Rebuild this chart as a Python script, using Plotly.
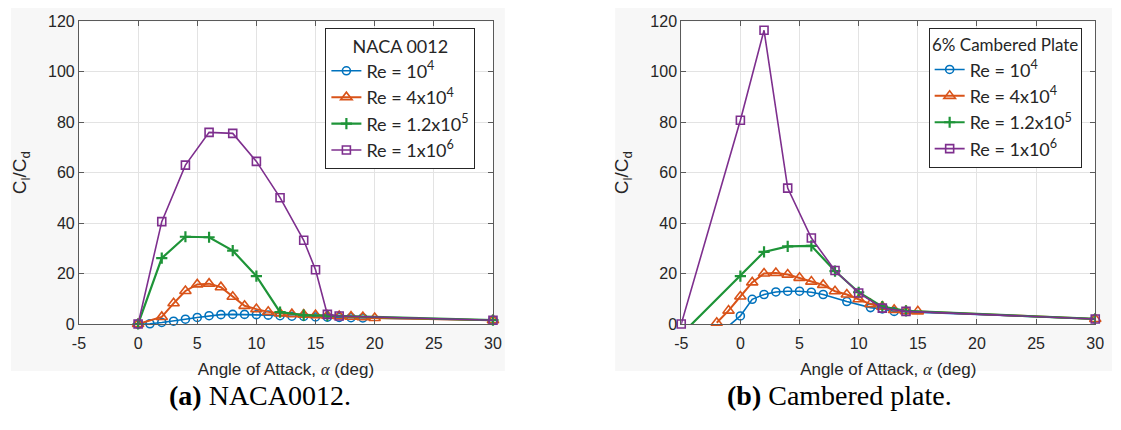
import plotly.graph_objects as go

# ---------------- data: (a) NACA 0012 ----------------
a_alpha_re1 = [0, 1, 2, 3, 4, 5, 6, 7, 8, 9, 10, 11, 12, 13, 14, 15, 16, 17, 18, 19, 30]
a_val_re1 = [0.0, 0.1, 0.6, 1.1, 1.9, 2.6, 3.3, 3.7, 3.8, 3.8, 3.7, 3.5, 3.3, 3.1, 3.0, 2.8, 2.7, 2.6, 2.5, 2.4, 1.5]

a_alpha_re2 = [0, 2, 3, 4, 5, 6, 7, 8, 9, 10, 11, 12, 13, 14, 15, 16, 17, 18, 19, 20, 30]
a_val_re2 = [0.0, 2.8, 8.2, 13.1, 15.7, 16.0, 14.6, 10.8, 7.2, 5.9, 4.8, 4.2, 3.9, 3.7, 3.5, 3.3, 3.1, 2.9, 2.7, 2.4, 1.5]

a_alpha_re3 = [0, 2, 4, 6, 8, 10, 12, 14, 16, 30]
a_val_re3 = [0.0, 26.1, 34.6, 34.4, 29.1, 19.0, 4.7, 3.5, 3.3, 1.5]

a_alpha_re4 = [0, 2, 4, 6, 8, 10, 12, 14, 15, 16, 17, 30]
a_val_re4 = [0.0, 40.6, 63.0, 76.0, 75.6, 64.5, 50.1, 33.2, 21.5, 3.8, 3.2, 1.5]

# ---------------- data: (b) 6% cambered plate ----------------
b_alpha_re1 = [-1, 0, 1, 2, 3, 4, 5, 6, 7, 9, 11, 12, 13, 30]
b_val_re1 = [-0.8, 3.2, 9.8, 11.7, 12.7, 13.0, 13.0, 12.6, 11.7, 8.9, 6.5, 6.0, 5.0, 2.0]

b_alpha_re2 = [-2, -1, 0, 1, 2, 3, 4, 5, 6, 7, 8, 9, 10, 11, 12, 13, 14, 15, 30]
b_val_re2 = [0.5, 5.3, 10.9, 16.5, 20.0, 20.2, 19.6, 18.3, 16.8, 15.5, 13.0, 11.7, 9.8, 7.9, 6.9, 5.6, 5.1, 5.0, 2.0]

b_alpha_re3 = [-5, 0, 2, 4, 6, 8, 10, 12, 14, 30]
b_val_re3 = [-4.2, 19.0, 28.6, 30.8, 31.0, 21.0, 12.6, 6.9, 5.2, 2.0]

b_alpha_re4 = [-5, 0, 2, 4, 6, 8, 10, 12, 14, 30]
b_val_re4 = [0.0, 80.8, 116.5, 53.9, 34.1, 21.2, 12.3, 6.3, 5.0, 2.0]

series_names = ["Re = 10<sup>4</sup>", "Re = 4x10<sup>4</sup>",
                "Re = 1.2x10<sup>5</sup>", "Re = 1x10<sup>6</sup>"]
colors = ["#0072BD", "#D95319", "#1E9438", "#7E2F8E"]
symbols = ["circle-open", "triangle-up-open", "cross-thin-open", "square-open"]
msizes = [8, 10, 8, 8]
lwidths = [1.6, 2.0, 2.2, 1.6]

x_ticks = [-5, 0, 5, 10, 15, 20, 25, 30]
x_ticktext = ["-5", "0", "5", "10", "15", "20", "25", "30"]
y_ticks = [0, 20, 40, 60, 80, 100, 120]
legend_titles = ["NACA 0012", "6% Cambered Plate"]
captions = ["<b>(a)</b> NACA0012.", "<b>(b)</b> Cambered plate."]

W, H = 1121, 430

def px(x):
    return x / W

def py(y):
    return 1 - y / H

fig = go.Figure()

panels = [
    ([a_alpha_re1, a_alpha_re2, a_alpha_re3, a_alpha_re4],
     [a_val_re1, a_val_re2, a_val_re3, a_val_re4], "x", "y", "legend", [False, False, False, False]),
    ([b_alpha_re1, b_alpha_re2, b_alpha_re3, b_alpha_re4],
     [b_val_re1, b_val_re2, b_val_re3, b_val_re4], "x2", "y2", "legend2", [True, False, True, False]),
]

for xs_list, ys_list, xa, ya, lg, clips in panels:
    for i in range(4):
        fig.add_trace(go.Scatter(
            x=xs_list[i], y=ys_list[i], xaxis=xa, yaxis=ya, legend=lg,
            name=series_names[i], mode="lines+markers",
            line=dict(color=colors[i], width=lwidths[i]),
            marker=dict(symbol=symbols[i], size=msizes[i], color=colors[i],
                        line=dict(color=colors[i], width=1.6 if i != 2 else 2.2)),
            cliponaxis=clips[i],
        ))

# panel backgrounds
shapes = []
for (x0, x1) in [(4, 505), (617, 1121)]:
    shapes.append(dict(type="rect", xref="paper", yref="paper",
                       x0=px(x0), x1=px(x1), y0=py(378), y1=py(0),
                       fillcolor="#f7f7f7", line=dict(width=0), layer="below"))
for (x0, x1) in [(73, 493), (684, 1104)]:
    shapes.append(dict(type="rect", xref="paper", yref="paper",
                       x0=px(x0), x1=px(x1), y0=py(329), y1=py(14),
                       fillcolor="#ffffff", line=dict(width=0), layer="below"))

axis_common = dict(
    showgrid=True, gridcolor="#e3e3e3", gridwidth=1,
    showline=True, linecolor="#5a5a5a", linewidth=1, mirror="ticks",
    ticks="inside", ticklen=5, tickcolor="#5a5a5a",
    tickfont=dict(family="Liberation Sans, Arial", size=16, color="#262626"),
    zeroline=False,
)

xtitle = "Angle of Attack, <span style=\"font-family:'Liberation Serif';font-style:italic\">α</span> (deg)"
ytitle = "C<sub>l</sub>/C<sub>d</sub>"
xt_font = dict(family="Liberation Sans, Arial", size=17, color="#262626")
yt_font = dict(family="Liberation Sans, Arial", size=19, color="#262626")

fig.update_layout(
    width=W, height=H,
    margin=dict(l=0, r=0, t=0, b=0),
    paper_bgcolor="#ffffff", plot_bgcolor="rgba(0,0,0,0)",
    shapes=shapes,
    xaxis=dict(domain=[px(73), px(493)], range=[-5, 30], tickvals=x_ticks, ticktext=x_ticktext,
               ticklabelstandoff=5,
               title=dict(text=xtitle, font=xt_font, standoff=11),
               anchor="y", **axis_common),
    yaxis=dict(domain=[py(329), py(14)], range=[0, 120], tickvals=y_ticks,
               title=dict(text=ytitle, font=yt_font, standoff=16),
               anchor="x", **axis_common),
    xaxis2=dict(domain=[px(684), px(1104)], range=[-5, 30], tickvals=x_ticks, ticktext=x_ticktext,
                ticklabelstandoff=5,
                title=dict(text=xtitle, font=xt_font, standoff=11),
                anchor="y2", **axis_common),
    yaxis2=dict(domain=[py(329), py(14)], range=[0, 120], tickvals=y_ticks,
                title=dict(text=ytitle, font=yt_font, standoff=16),
                anchor="x2", **axis_common),
    legend=dict(x=px(323), y=py(21), xanchor="left", yanchor="top",
                bgcolor="#ffffff", bordercolor="#262626", borderwidth=1,
                font=dict(family="Lato", size=18, color="#262626"),
                title=dict(text=legend_titles[0], side="top center",
                           font=dict(family="Lato", size=18, color="#262626")),
                itemwidth=30, tracegroupgap=0),
    legend2=dict(x=px(935), y=py(21), xanchor="left", yanchor="top",
                 bgcolor="#ffffff", bordercolor="#262626", borderwidth=1,
                 font=dict(family="Lato", size=18, color="#262626"),
                 title=dict(text=legend_titles[1], side="top center",
                            font=dict(family="Lato", size=17, color="#262626")),
                 itemwidth=30, tracegroupgap=0),
    showlegend=True,
)

for cx, txt in zip([257, 845], captions):
    fig.add_annotation(x=px(cx), y=py(403), xref="paper", yref="paper",
                       text=txt, showarrow=False, xanchor="center", yanchor="middle",
                       font=dict(family="Liberation Serif", size=28, color="#000000"))

fig.write_html("out.html")
